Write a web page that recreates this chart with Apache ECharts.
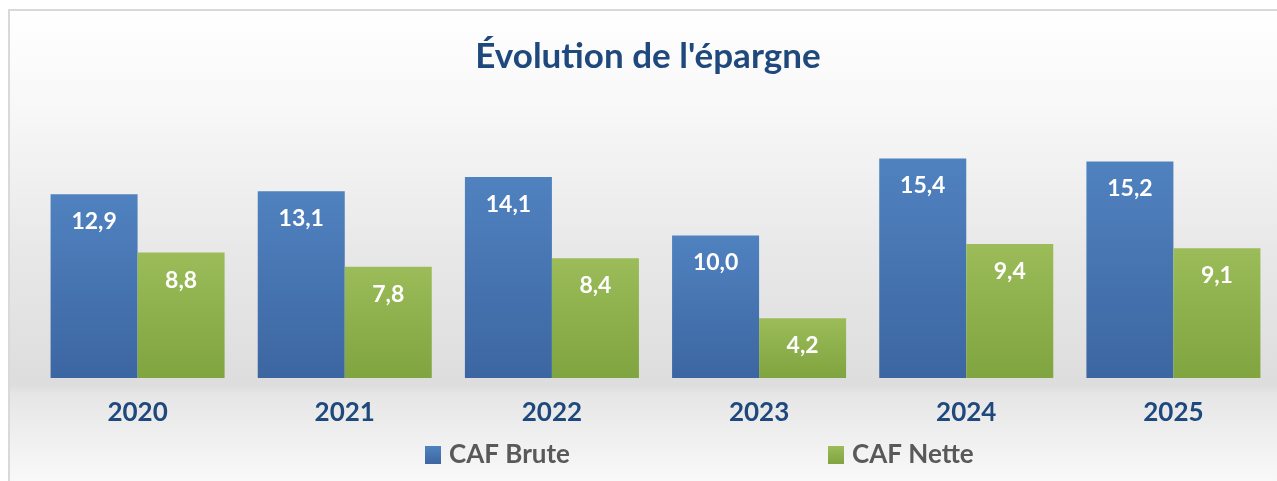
<!DOCTYPE html>
<html><head><meta charset="utf-8">
<script src="https://cdn.jsdelivr.net/npm/echarts@6/dist/echarts.min.js"></script>
<style>html,body{margin:0;padding:0;background:#fff}#c{width:1277px;height:481px}</style>
</head><body><div id="c"></div>
<script>
const categories = ['2020','2021','2022','2023','2024','2025'];
const cafBrute = [12.9, 13.1, 14.1, 10.0, 15.4, 15.2];
const cafNette = [8.8, 7.8, 8.4, 4.2, 9.4, 9.1];
const seriesNames = ['CAF Brute', 'CAF Nette'];
const titleText = "Évolution de l'épargne";

const FONT = 'Lato, "Open Sans", sans-serif';
const chart = echarts.init(document.getElementById('c'), null, {renderer:'canvas'});
const grad = (a,b)=>new echarts.graphic.LinearGradient(0,0,0,1,[{offset:0,color:a},{offset:1,color:b}]);
const fmt = p => p.value.toFixed(1).replace('.', ',');
const labelCfg = {show:true, position:'insideTop', distance:16, color:'#fff', fontFamily:FONT, fontWeight:'bold', fontSize:23, formatter:fmt};

chart.setOption({
  animation:false,
  graphic:[
    {type:'rect', z:-10, shape:{x:9,y:10,width:1280,height:480},
     style:{fill:new echarts.graphic.LinearGradient(0,0,0,1,[
       {offset:0,color:'#ffffff'},{offset:0.2,color:'#f8f8f8'},{offset:0.5,color:'#e8e8e8'},
       {offset:0.78,color:'#dddddd'},{offset:0.8,color:'#e6e6e6'},{offset:1,color:'#fbfbfb'}]),
       stroke:'#d9d9d9', lineWidth:2}}
  ],
  title:{text:titleText, left:643, textAlign:'center', top:34,
    textStyle:{color:'#1f497d', fontFamily:FONT, fontWeight:'bold', fontSize:35}},
  legend:{left:420, top:437, itemWidth:16, itemHeight:18, itemGap:258, icon:'rect',
    textStyle:{color:'#595959', fontFamily:FONT, fontWeight:'bold', fontSize:26, padding:[0,0,0,3]},
    data:seriesNames},
  grid:{left:34, right:0, top:93, bottom:103},
  xAxis:{type:'category', data:categories, axisLine:{show:false}, axisTick:{show:false},
    axisLabel:{color:'#1f497d', fontFamily:FONT, fontWeight:'bold', fontSize:26, margin:22}},
  yAxis:{type:'value', min:0, max:20, show:false, splitLine:{show:false}},
  series:[
    {name:seriesNames[0], type:'bar', data:cafBrute, barGap:'0%', barCategoryGap:'16%',
     itemStyle:{color:grad('#5082c0','#3c66a1')}, label:labelCfg},
    {name:seriesNames[1], type:'bar', data:cafNette,
     itemStyle:{color:grad('#9bbc59','#80a43f')}, label:labelCfg}
  ]
});
</script></body></html>
